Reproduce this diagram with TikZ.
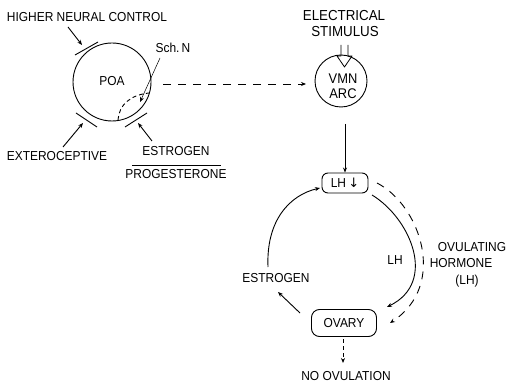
\documentclass[tikz,border=0pt]{standalone}
\usepackage{fontspec}
\setmainfont{Liberation Sans}[FakeStretch=0.92]
\newfontfamily\symfont{DejaVu Sans}
\usetikzlibrary{arrows.meta,shapes.geometric}
\begin{document}
\begin{tikzpicture}[x=1pt,y=-1pt,
  >={Stealth[length=5pt,width=4pt]},
  lbl/.style={font=\fontsize{13}{15}\selectfont, inner sep=0pt},
  biglbl/.style={font=\fontsize{14.5}{16}\selectfont, inner sep=0pt},
  ln/.style={line width=0.9pt},
  rbox/.style={draw, line width=0.9pt, rounded corners=7pt, inner sep=0pt,
    font=\fontsize{13}{15}\selectfont},
  longdash/.style={dash pattern=on 8pt off 7pt},
  shortdash/.style={dash pattern=on 4pt off 3pt}]
\useasboundingbox (0,0) rectangle (511,387);

% ---- POA part ----
\node[lbl] (hnc) at (87,17) {HIGHER NEURAL CONTROL};
\node[circle, draw, ln, minimum size=78pt, inner sep=0pt,
  font=\fontsize{13}{15}\selectfont] (poa) at (112,82) {\raisebox{2pt}{POA}};
\node[lbl] (ext) at (57,156) {EXTEROCEPTIVE};
\node[lbl] (schn) at (173,48) {Sch.\,N};
\node[lbl] (estr) at (176,151) {ESTROGEN};
\node[lbl] (prog) at (176,174) {PROGESTERONE};
\coordinate (fracL) at (132,165);
\coordinate (fracR) at (221,165);
\draw[ln] (fracL) -- (fracR);

% tangent bars
\coordinate (b1a) at (75,55);  \coordinate (b1b) at (98,42);
\coordinate (b2a) at (76,113); \coordinate (b2b) at (97,127);
\coordinate (b3a) at (125,127);\coordinate (b3b) at (147,113);
\draw[ln] (b1a) -- (b1b);
\draw[ln] (b2a) -- (b2b);
\draw[ln] (b3a) -- (b3b);

% input arrows
\coordinate (hncS) at (68,27);  \coordinate (b1m) at (82,45);
\coordinate (extN) at (63,147); \coordinate (b2m) at (83,123);
\coordinate (estrN) at (152,141); \coordinate (b3m) at (138,123);
\draw[ln,->] (hncS) -- (b1m);
\draw[ln,->] (extN) -- (b2m);
\draw[ln,->] (estrN) -- (b3m);

% Sch N region
\coordinate (schS) at (160,58);
\coordinate (schT) at (140,102);
\draw[line width=0.5pt,->] (schS) -- (schT);
\coordinate (scA) at (118,120);
\coordinate (scB) at (149,93);
\draw[ln,shortdash] (scA) .. controls (119,105) and (130,95) .. (scB);

% ---- VMN part ----
\node[biglbl] (elec) at (344,16) {ELECTRICAL};
\node[biglbl] (stim) at (345,32) {STIMULUS};
\node[ellipse, draw, ln, minimum width=52pt, minimum height=52pt, inner sep=0pt] (vmn) at (341,81) {};
\node[font=\fontsize{14}{15}\selectfont, inner sep=0pt, align=center] (vmntxt) at (343,86) {VMN\\ARC};
% hollow stimulus arrow
\draw[line width=0.8pt, line join=round] (341,45) -- (341,56) -- (337,56) -- (344.5,67)
  -- (352,56) -- (348,56) -- (348,45);

\coordinate (poaE) at (163,84);
\coordinate (vmnW) at (306,84);
\draw[ln,longdash,->] (poaE) -- (vmnW);

% ---- cycle ----
\node[rbox, minimum width=46pt, minimum height=20pt, rounded corners=6pt] (lh) at (345,183) {LH{\symfont\,↓}};
\node[rbox, minimum width=65pt, minimum height=27pt, rounded corners=8pt] (ovary) at (344,323) {OVARY};
\coordinate (vmnS) at (345,124);
\draw[ln,->] (vmnS) -- (lh.north);

\node[lbl] (est2) at (276,278) {ESTROGEN};
\node[lbl] (lhl) at (395,260) {LH};
\node[lbl] (ovu) at (472,247) {OVULATING};
\node[lbl] (hor) at (461,263) {HORMONE};
\node[lbl] (lhp) at (467,281) {(LH)};
\node[lbl] (noov) at (346,376) {NO OVULATION};

\coordinate (lA) at (268,267);
\coordinate (lB) at (320,188);
\draw[ln,->] (lA) .. controls (266,220) and (290,195) .. (lB);

\coordinate (rA) at (372,195);
\coordinate (rB) at (387,307);
\draw[ln,->] (rA) .. controls (410,218) and (438,282) .. (rB);

\coordinate (dsA) at (377,183);
\coordinate (dsB) at (390,323);
\draw[ln,longdash,->] (dsA) .. controls (420,205) and (448,285) .. (dsB);

\coordinate (ovNW) at (300,313);
\coordinate (estS) at (278,292);
\draw[ln,->] (ovNW) -- (estS);

\coordinate (ovS) at (343,339);
\coordinate (noN) at (343,363);
\draw[ln,shortdash,->] (ovS) -- (noN);
\end{tikzpicture}
\end{document}
